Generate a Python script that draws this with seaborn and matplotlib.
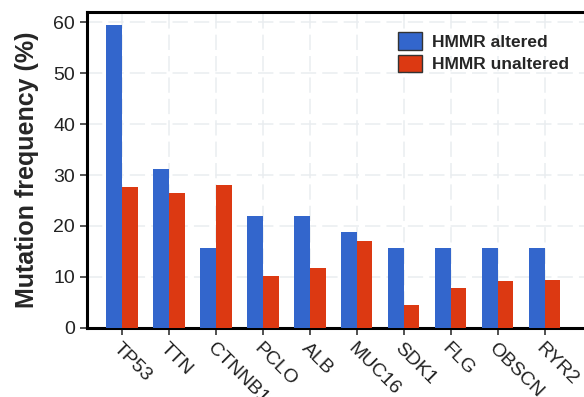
import pandas as pd
import seaborn as sns
import matplotlib.pyplot as plt
from matplotlib.patches import Patch

genes = ["TP53", "TTN", "CTNNB1", "PCLO", "ALB", "MUC16", "SDK1", "FLG", "OBSCN", "RYR2"]
altered = [59.4, 31.25, 15.6, 21.9, 21.9, 18.75, 15.6, 15.6, 15.6, 15.6]
unaltered = [27.7, 26.5, 28.1, 10.1, 11.75, 17.1, 4.4, 7.9, 9.25, 9.5]
groups = ["HMMR altered", "HMMR unaltered"]
colors = ["#3366cc", "#dc3912"]

df = pd.DataFrame({
    "gene": genes * 2,
    "freq": altered + unaltered,
    "group": [groups[0]] * len(genes) + [groups[1]] * len(genes),
})

sns.set_style("white")
plt.rcParams["font.family"] = ["Liberation Sans", "DejaVu Sans"]

fig = plt.figure(figsize=(5.84, 3.97), dpi=100)
ax = fig.add_axes([0.149, 0.174, 0.856, 0.796])

sns.barplot(data=df, x="gene", y="freq", hue="group", palette=colors,
            width=0.667, saturation=1, ax=ax, legend=False, zorder=3,
            linewidth=0)

# dashed light grid
ax.set_axisbelow(True)
ax.grid(True, color="#e9edf0", linestyle=(0, (10, 4)), linewidth=1.1)

ax.set_xlim(-0.745, 9.9)
ax.set_ylim(0, 62)
ax.set_yticks([0, 10, 20, 30, 40, 50, 60])
ax.set_xlabel("")
ax.set_ylabel("Mutation frequency (%)", fontsize=18, fontweight="bold", labelpad=10)

ax.tick_params(axis="both", direction="out", length=5, width=1.2, color="#333333",
               labelsize=14, labelcolor="#222222", bottom=True, left=True)
for lab in ax.get_xticklabels():
    lab.set_rotation(-45)
    lab.set_ha("left")
    lab.set_va("top")
    lab.set_rotation_mode("anchor")

for side in ["left", "bottom", "top"]:
    ax.spines[side].set_linewidth(2.2)
    ax.spines[side].set_color("black")
ax.spines["right"].set_visible(False)

handles = [Patch(facecolor=c, edgecolor="#333333", linewidth=1, label=g)
           for c, g in zip(colors, groups)]
leg = ax.legend(handles=handles, loc="upper right", bbox_to_anchor=(0.995, 0.985),
                frameon=False, prop={"size": 12.5, "weight": "bold"},
                handlelength=1.38, handleheight=1.15, handletextpad=0.58,
                labelspacing=0.3)

fig.savefig("out.png", dpi=100)
